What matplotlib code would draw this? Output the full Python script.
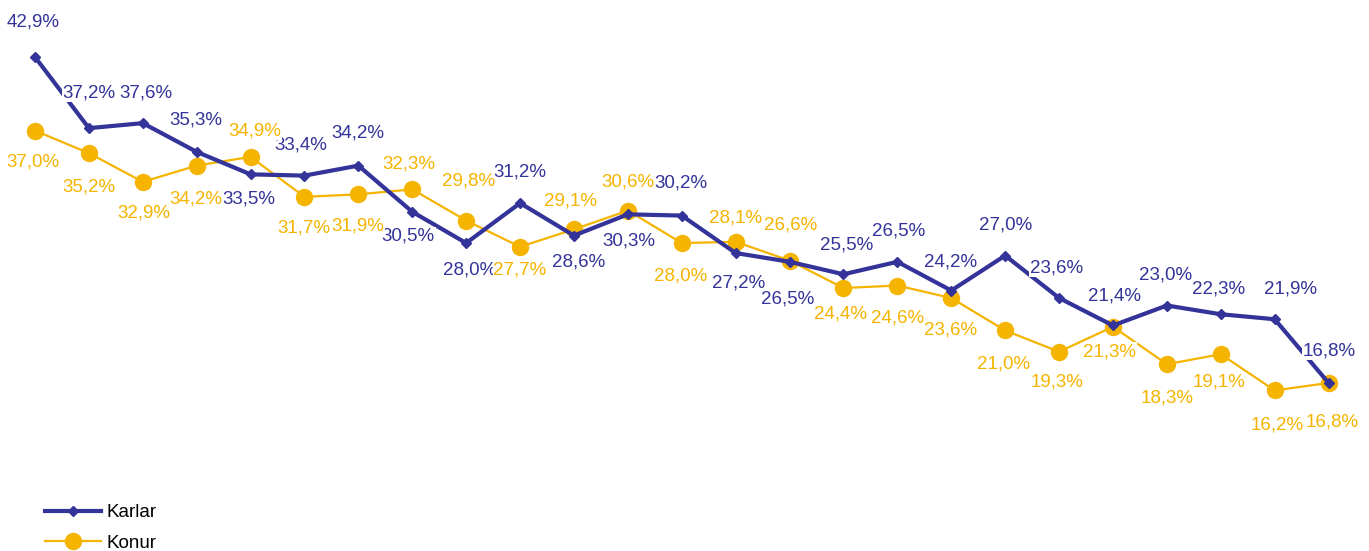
import numpy as np
import matplotlib
matplotlib.use('Agg')
import matplotlib.pyplot as plt

matplotlib.rcParams['font.family'] = ['Liberation Sans', 'DejaVu Sans']
matplotlib.rcParams['font.size'] = 13.5

# values (25 points per series)
karlar = [42.9, 37.2, 37.6, 35.3, 33.5, 33.4, 34.2, 30.5, 28.0, 31.2, 28.6, 30.3, 30.2,
          27.2, 26.5, 25.5, 26.5, 24.2, 27.0, 23.6, 21.4, 23.0, 22.3, 21.9, 16.8]
konur = [37.0, 35.2, 32.9, 34.2, 34.9, 31.7, 31.9, 32.3, 29.8, 27.7, 29.1, 30.6, 28.0,
         28.1, 26.6, 24.4, 24.6, 23.6, 21.0, 19.3, 21.3, 18.3, 19.1, 16.2, 16.8]
series_names = ['Karlar', 'Konur']

# label offsets in pixels (dx, dy with dy positive = down)
karlar_off = [(-2, -35), (0, -35), (3, -30), (-1, -32), (-2, 25), (-4, -31), (-1, -33),
              (-4, 24), (3, 27), (0, -31), (5, 26), (1, 27), (-1, -33), (3, 30), (-2, 37),
              (3, -29), (1, -31), (-1, -29), (0, -31), (-3, -30), (2, -29), (-1, -31),
              (-2, -25), (16, -30), (1, -32)]
konur_off = [(-2, 31), (0, 34), (1, 31), (-1, 33), (4, -26), (-1, 31), (-1, 32), (-3, -25),
             (2, -40), (0, 23), (-3, -28), (0, -29), (-1, 33), (0, -24), (1, -36), (-3, 26),
             (0, 32), (-1, 32), (-2, 34), (-2, 30), (-3, 25), (0, 34), (-2, 28), (3, 35),
             (4, 39)]

blue = '#333399'
orange = '#f5b400'

x = np.arange(len(karlar))

fig = plt.figure(figsize=(13.69, 5.51), dpi=100)
ax = fig.add_axes([0, 0, 1, 1])

ax.plot(x, konur, color=orange, lw=1.6, marker='o', ms=11.5, label=series_names[1], zorder=2)
ax.plot(x, karlar, color=blue, lw=3, marker='D', ms=5, label=series_names[0], zorder=3)

def fmt(v):
    return ('%.1f%%' % v).replace('.', ',')

for vals, offs, col in [(karlar, karlar_off, blue), (konur, konur_off, orange)]:
    for i, v in enumerate(vals):
        dx, dy = offs[i]
        ax.annotate(fmt(v), (x[i], v), xytext=(dx, -dy), textcoords='offset pixels',
                    ha='center', va='center', color=col, zorder=5,
                    bbox=dict(facecolor='white', edgecolor='none', pad=0.5))

ax.set_xlim(-0.649, -0.649 + 1369 / 53.9)
ax.set_ylim(47.46 - 551 / 12.49, 47.46)
ax.axis('off')

h, l = ax.get_legend_handles_labels()
leg = fig.legend(h[::-1], l[::-1], loc='upper left', bbox_to_anchor=(0.033, 0.085),
                 frameon=False, handlelength=3.0, handletextpad=0.27, labelspacing=0.72,
                 borderpad=0, borderaxespad=0, fontsize=13.5)

fig.savefig('out.png', dpi=100, facecolor='white')
